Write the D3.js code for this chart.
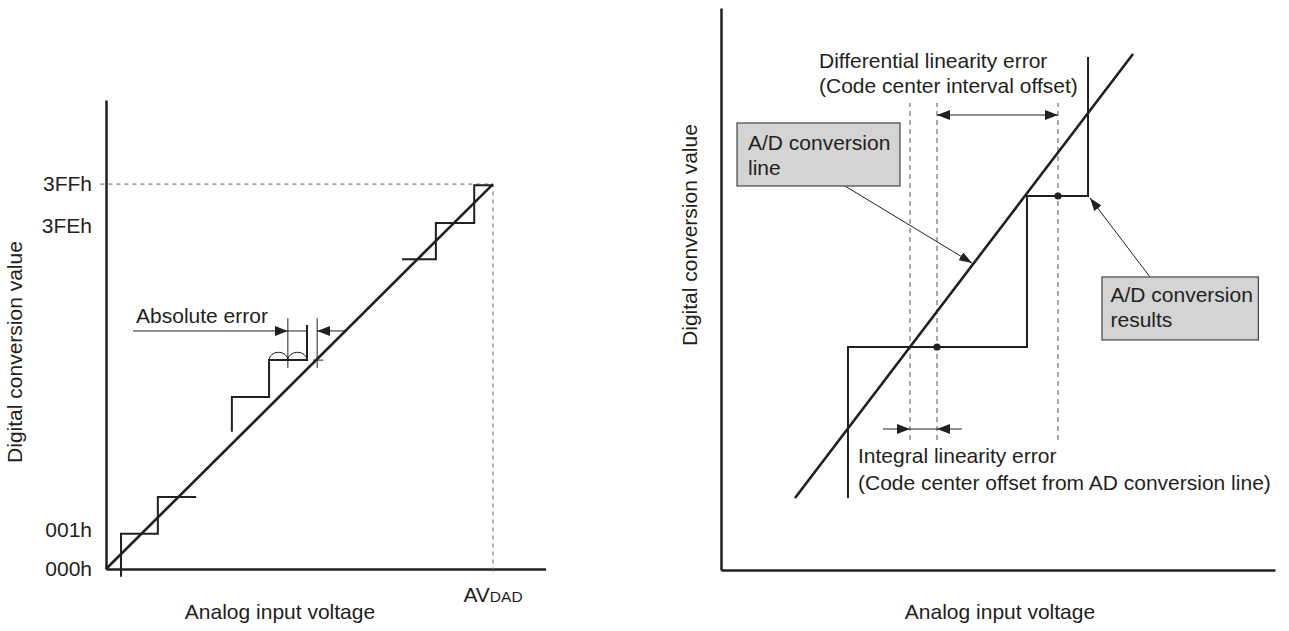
<!DOCTYPE html>
<html>
<head>
<meta charset="utf-8">
<script src="https://cdn.jsdelivr.net/npm/d3@7"></script>
<style>
	body { margin: 0; background: #fff; }
	svg { display: block; }
	text { font-family: "Liberation Sans", Arial, sans-serif; fill: #231f20; }
</style>
</head>
<body>
<svg></svg>
<script>
// ---- left panel: absolute error (units = one code step) ----
const leftTickLabels = ["000h", "001h", "3FEh", "3FFh"];
const leftTickValues = [0, 1.04, 9.18, 10.3];
const fullScale = 10.3; // AVDAD / 3FFh
const idealLine = [[0, 0], [10.3, 10.3]];
const lowSteps = [[0.4, -0.21], [0.4, 0.94], [1.38, 0.94], [1.38, 1.93], [2.4, 1.93]];
const midSteps = [[3.35, 3.67], [3.35, 4.6], [4.34, 4.6], [4.34, 5.59], [5.35, 5.59], [5.35, 6.53]];
const topSteps = [[7.88, 8.29], [8.78, 8.29], [8.78, 9.26], [9.8, 9.26], [9.8, 10.27], [10.3, 10.27]];
const absGuides = [4.84, 5.62];
const absGuideSpan = [5.38, 6.71];
const absArrowY = 6.37;
const absArrowIn = [0.72, 4.84];
const absArrowOut = [6.41, 5.62];
const absBar = [4.84, 5.35];
const codeArcs = [[4.34, 4.84], [4.84, 5.35]];
const arcLevel = 5.59;
const arcRise = 0.21;
const crossTick = [[5.51, 5.59], [5.78, 5.59]];

// ---- right panel: linearity errors (units = % of axis) ----
const rightLine = [[13.36, 12.81], [74.37, 91.81]];
const rightSteps = [[22.92, 12.81], [22.92, 39.68], [55.23, 39.68], [55.23, 66.55], [66.25, 66.55], [66.25, 91.28]];
const codeCenters = [[38.99, 39.68], [60.83, 66.55]];
const guideXs = [34.12, 38.99, 60.83];
const guideSpan = [23.13, 83.1];
const diffArrow = { y: 80.96, x0: 38.99, x1: 60.83 };
const integralArrow = { y: 25.09, x0: 29.24, tipL: 34.12, tipR: 38.99, x1: 43.5 };
const diffText = ["Differential linearity error", "(Code center interval offset)"];
const diffTextPos = [[17.69, 89.32], [17.69, 84.88]];
const intText = ["Integral linearity error", "(Code center offset from AD conversion line)"];
const intTextPos = [[24.73, 19.04], [24.73, 14.23]];
const lineBox = { x0: 2.89, x1: 32.31, y0: 68.33, y1: 79.54, lines: ["A/D conversion", "line"], tx: 4.87, ty: [74.73, 70.28] };
const lineLeader = [[22.38, 68.33], [45.31, 54.63]];
const resBox = { x0: 68.77, x1: 97.0, y0: 40.93, y1: 52.14, lines: ["A/D conversion", "results"], tx: 70.3, ty: [47.75, 43.2] };
const resLeader = [[77.44, 52.14], [66.61, 66.19]];

const size = { w: 1289, h: 631 };
const fs = 21;
const ink = "#231f20";
const svg = d3.select("svg").attr("width", size.w).attr("height", size.h);

const defs = svg.append("defs");
defs.append("marker")
	.attr("id", "head")
	.attr("viewBox", "0 0 13 10")
	.attr("refX", 13)
	.attr("refY", 5)
	.attr("markerUnits", "userSpaceOnUse")
	.attr("markerWidth", 13)
	.attr("markerHeight", 10)
	.attr("orient", "auto-start-reverse")
	.append("path")
	.attr("d", "M0,0L13,5L0,10Z")
	.attr("fill", ink);
defs.append("marker")
	.attr("id", "lead")
	.attr("viewBox", "0 0 13 9")
	.attr("refX", 13)
	.attr("refY", 4.5)
	.attr("markerUnits", "userSpaceOnUse")
	.attr("markerWidth", 13)
	.attr("markerHeight", 9)
	.attr("orient", "auto")
	.append("path")
	.attr("d", "M0,0L13,4.5L0,9Z")
	.attr("fill", ink);

function styleAxis(g) {
	g.select(".domain").attr("stroke", ink).attr("stroke-width", 2.5);
	g.selectAll(".tick line").remove();
	g.selectAll(".tick text")
		.attr("font-size", fs)
		.attr("font-family", "Liberation Sans, Arial, sans-serif")
		.attr("fill", ink);
}

// ===== left panel =====
const xL = d3.scaleLinear().domain([0, 11.7]).range([106, 545.6]);
const yL = d3.scaleLinear().domain([0, 12.55]).range([569, 100]);
const lineL = d3.line().x((d) => xL(d[0])).y((d) => yL(d[1]));
const left = svg.append("g");

left.append("g")
	.attr("transform", `translate(${xL(0)},0)`)
	.call(d3.axisLeft(yL).tickValues(leftTickValues).tickFormat((d, i) => leftTickLabels[i]).tickSize(0).tickSizeOuter(0).tickPadding(14))
	.call(styleAxis);
left.append("g")
	.attr("transform", `translate(0,${yL(0)})`)
	.call(d3.axisBottom(xL).tickValues([]).tickSizeOuter(0))
	.call(styleAxis);

// full-scale dashed guides
left.append("path")
	.attr("d", lineL([[-0.15, fullScale], [fullScale, fullScale], [fullScale, -0.15]]))
	.attr("fill", "none")
	.attr("stroke", "#666")
	.attr("stroke-width", 1)
	.attr("stroke-dasharray", "4,4");

// thin guides around absolute error
absGuides.forEach((gx) => {
	left.append("path")
		.attr("d", lineL([[gx, absGuideSpan[0]], [gx, absGuideSpan[1]]]))
		.attr("stroke", ink)
		.attr("stroke-width", 1);
});
left.append("path")
	.attr("d", lineL(crossTick))
	.attr("stroke", ink)
	.attr("stroke-width", 1);

[lowSteps, midSteps, topSteps].forEach((s) => {
	left.append("path")
		.attr("d", lineL(s))
		.attr("fill", "none")
		.attr("stroke", ink)
		.attr("stroke-width", 2);
});

left.append("path")
	.attr("d", lineL(idealLine))
	.attr("stroke", ink)
	.attr("stroke-width", 2.6);

// code width arcs
const arcRy = yL(arcLevel) - yL(arcLevel + arcRise);
codeArcs.forEach((a) => {
	const x0 = xL(a[0]);
	const x1 = xL(a[1]);
	left.append("path")
		.attr("d", `M${x0},${yL(arcLevel)}A${(x1 - x0) / 2},${arcRy} 0 0 1 ${x1},${yL(arcLevel)}`)
		.attr("fill", "none")
		.attr("stroke", ink)
		.attr("stroke-width", 1);
});

// absolute error arrows
left.append("path")
	.attr("d", lineL([[absArrowIn[0], absArrowY], [absArrowIn[1], absArrowY]]))
	.attr("stroke", ink)
	.attr("stroke-width", 1)
	.attr("marker-end", "url(#head)");
left.append("path")
	.attr("d", lineL([[absBar[0], absArrowY], [absBar[1], absArrowY]]))
	.attr("stroke", ink)
	.attr("stroke-width", 1);
left.append("path")
	.attr("d", lineL([[absArrowOut[0], absArrowY], [absArrowOut[1], absArrowY]]))
	.attr("stroke", ink)
	.attr("stroke-width", 1)
	.attr("marker-end", "url(#head)");

left.append("text")
	.attr("x", xL(0.8))
	.attr("y", yL(6.58))
	.attr("font-size", fs)
	.text("Absolute error");

const av = left.append("text")
	.attr("x", xL(fullScale))
	.attr("y", 602)
	.attr("text-anchor", "middle")
	.attr("font-size", fs);
av.append("tspan").text("AV");
av.append("tspan").attr("font-size", 15.5).text("DAD");

left.append("text")
	.attr("x", 280)
	.attr("y", 619)
	.attr("text-anchor", "middle")
	.attr("font-size", fs)
	.text("Analog input voltage");
left.append("text")
	.attr("transform", "translate(22,352) rotate(-90)")
	.attr("text-anchor", "middle")
	.attr("font-size", fs)
	.text("Digital conversion value");

// ===== right panel =====
const xR = d3.scaleLinear().domain([0, 100]).range([721, 1275]);
const yR = d3.scaleLinear().domain([0, 100]).range([570, 8]);
const lineR = d3.line().x((d) => xR(d[0])).y((d) => yR(d[1]));
const right = svg.append("g");

right.append("g")
	.attr("transform", `translate(${xR(0)},0)`)
	.call(d3.axisLeft(yR).tickValues([]).tickSizeOuter(0))
	.call(styleAxis);
right.append("g")
	.attr("transform", `translate(0,${yR(0)})`)
	.call(d3.axisBottom(xR).tickValues([]).tickSizeOuter(0))
	.call(styleAxis);

guideXs.forEach((gx) => {
	right.append("path")
		.attr("d", lineR([[gx, guideSpan[0]], [gx, guideSpan[1]]]))
		.attr("stroke", "#555")
		.attr("stroke-width", 1)
		.attr("stroke-dasharray", "5,4");
});

right.append("path")
	.attr("d", lineR(rightSteps))
	.attr("fill", "none")
	.attr("stroke", ink)
	.attr("stroke-width", 2);
right.append("path")
	.attr("d", lineR(rightLine))
	.attr("stroke", ink)
	.attr("stroke-width", 2.6);

right.selectAll("circle.center")
	.data(codeCenters)
	.join("circle")
	.classed("center", true)
	.attr("cx", (d) => xR(d[0]))
	.attr("cy", (d) => yR(d[1]))
	.attr("r", 3.6)
	.attr("fill", ink);

// differential arrow (double headed)
right.append("path")
	.attr("d", lineR([[diffArrow.x0, diffArrow.y], [diffArrow.x1, diffArrow.y]]))
	.attr("stroke", ink)
	.attr("stroke-width", 1)
	.attr("marker-start", "url(#head)")
	.attr("marker-end", "url(#head)");

// integral arrows pointing inward
right.append("path")
	.attr("d", lineR([[integralArrow.x0, integralArrow.y], [integralArrow.tipL, integralArrow.y]]))
	.attr("stroke", ink)
	.attr("stroke-width", 1)
	.attr("marker-end", "url(#head)");
right.append("path")
	.attr("d", lineR([[integralArrow.tipL, integralArrow.y], [integralArrow.tipR, integralArrow.y]]))
	.attr("stroke", ink)
	.attr("stroke-width", 1);
right.append("path")
	.attr("d", lineR([[integralArrow.x1, integralArrow.y], [integralArrow.tipR, integralArrow.y]]))
	.attr("stroke", ink)
	.attr("stroke-width", 1)
	.attr("marker-end", "url(#head)");

diffText.forEach((t, i) => {
	right.append("text")
		.attr("x", xR(diffTextPos[i][0]))
		.attr("y", yR(diffTextPos[i][1]))
		.attr("font-size", fs)
		.text(t);
});
intText.forEach((t, i) => {
	right.append("text")
		.attr("x", xR(intTextPos[i][0]))
		.attr("y", yR(intTextPos[i][1]))
		.attr("font-size", fs)
		.text(t);
});

[[lineBox, lineLeader], [resBox, resLeader]].forEach(([b, leader]) => {
	right.append("path")
		.attr("d", lineR(leader))
		.attr("stroke", ink)
		.attr("stroke-width", 1)
		.attr("marker-end", "url(#lead)");
	right.append("rect")
		.attr("x", xR(b.x0))
		.attr("y", yR(b.y1))
		.attr("width", xR(b.x1) - xR(b.x0))
		.attr("height", yR(b.y0) - yR(b.y1))
		.attr("fill", "#d4d4d4")
		.attr("stroke", "#444")
		.attr("stroke-width", 1.2);
	b.lines.forEach((t, i) => {
		right.append("text")
			.attr("x", xR(b.tx))
			.attr("y", yR(b.ty[i]))
			.attr("font-size", fs)
			.text(t);
	});
});

right.append("text")
	.attr("x", 1000)
	.attr("y", 619)
	.attr("text-anchor", "middle")
	.attr("font-size", fs)
	.text("Analog input voltage");
right.append("text")
	.attr("transform", "translate(697,235) rotate(-90)")
	.attr("text-anchor", "middle")
	.attr("font-size", fs)
	.text("Digital conversion value");
</script>
</body>
</html>
